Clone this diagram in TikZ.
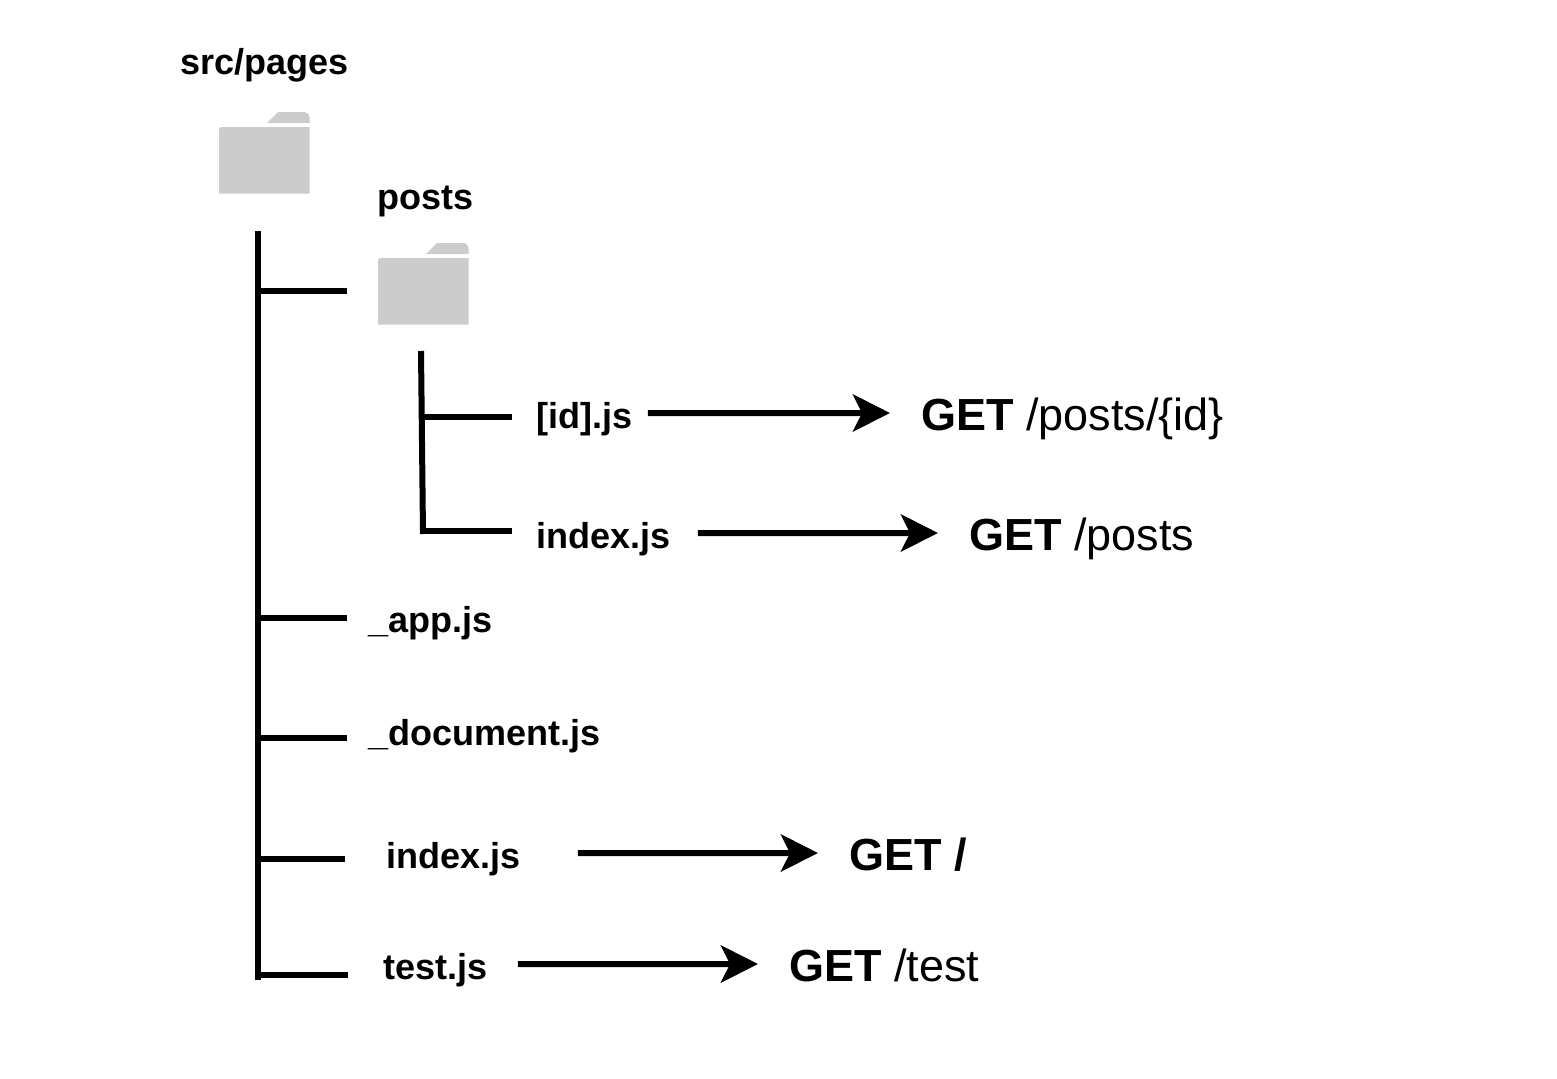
\documentclass[tikz,border=0pt]{standalone}
\usepackage{fontspec}
\setmainfont{Liberation Sans}
\usetikzlibrary{arrows.meta}

\definecolor{foldergray}{HTML}{CCCCCC}

\tikzset{
  filelabel/.style={anchor=base west, inner sep=0pt, text height=0.60cm, text depth=0pt,
    font=\fontsize{20.5pt}{24pt}\selectfont\bfseries},
  routelabel/.style={anchor=base west, inner ysep=0pt, inner xsep=0.62cm, text height=0.68cm, text depth=0pt,
    font=\fontsize{25.6pt}{30pt}\selectfont},
  treeline/.style={line width=0.12cm, black},
  routearrow/.style={line width=0.12cm, black, -{Stealth[length=0.74cm, width=0.74cm, inset=0.18cm]}},
  folder/.pic={
    \fill[foldergray] (0,81.5) [rounded corners=0.05cm] -- (0,15) [sharp corners] -- (90.5,15) -- (90.5,81.5) -- cycle;
    \fill[foldergray] (48,11) -- (59,0) [rounded corners=0.1cm] -- (90.5,0) [sharp corners] -- (90.5,11) -- cycle;
  }
}

\begin{document}
\begin{tikzpicture}[x=0.02cm,y=-0.02cm]
\useasboundingbox (0,0) rectangle (1557,1078);

\node[filelabel] (pages) at (180,74) {src/pages};
\pic (pagesfolder) at (219,112) {folder};
\node[filelabel] (posts) at (377,209) {posts};
\pic (postsfolder) at (378,243) {folder};

\node[filelabel] (idfile) at (536,428) {[id].js};
\node[filelabel] (postsindex) at (536,548) {index.js};
\node[filelabel] (appfile) at (368,632) {\_app.js};
\node[filelabel] (documentfile) at (368,745) {\_document.js};
\node[filelabel] (rootindex) at (386,868) {index.js};
\node[filelabel] (testfile) at (383,979) {test.js};

\node[routelabel] (idroute) at (890,430) {\textbf{GET} /posts/\{id\}};
\node[routelabel] (postsroute) at (938,550) {\textbf{GET} /posts};
\node[routelabel] (rootroute) at (818,870) {\textbf{GET /}};
\node[routelabel] (testroute) at (758,981) {\textbf{GET} /test};

\coordinate (pagestop) at (258,231);
\coordinate (pagesbottom) at (258,980);
\coordinate (postsend) at (347,291);
\coordinate (append) at (347,618);
\coordinate (documentend) at (347,737.5);
\coordinate (indexend) at (345,859);
\coordinate (testend) at (348,974.5);

\coordinate (poststop) at (421,351);
\coordinate (postsbottom) at (423,534);
\coordinate (idend) at (512,417);
\coordinate (postsindexend) at (512,531);

\draw[treeline] (pagestop) -- (pagesbottom);
\draw[treeline] (pagestop |- postsend) -- (postsend);
\draw[treeline] (pagestop |- append) -- (append);
\draw[treeline] (pagestop |- documentend) -- (documentend);
\draw[treeline] (pagestop |- indexend) -- (indexend);
\draw[treeline] (pagestop |- testend) -- (testend);

\draw[treeline] (poststop) -- (postsbottom);
\draw[treeline] (postsbottom |- idend) -- (idend);
\draw[treeline] (postsbottom |- postsindexend) -- (postsindexend);

\draw[routearrow, shorten <=0.30cm] (idfile) -- (idroute);
\draw[routearrow, shorten <=0.54cm] (postsindex) -- (postsroute);
\draw[routearrow, shorten <=1.14cm] (rootindex) -- (rootroute);
\draw[routearrow, shorten <=0.60cm] (testfile) -- (testroute);
\end{tikzpicture}
\end{document}
